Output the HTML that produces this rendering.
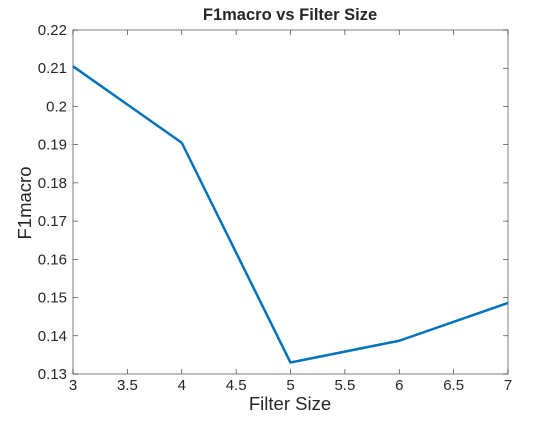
<!DOCTYPE html>
<html><head><meta charset="utf-8"><style>
body{margin:0;background:#fff;}
svg text{font-family:"Liberation Sans",sans-serif;fill:#262626;}
</style></head><body>
<svg id="chart" width="560" height="420">
<rect x="0" y="0" width="560" height="420" fill="#fff"/>
<g id="axes"></g>
<path id="line" fill="none" stroke="#0072bd" stroke-width="2.5" stroke-linejoin="round"/>
<text x="290" y="20" text-anchor="middle" font-size="16.5" font-weight="bold">F1macro vs Filter Size</text>
<text x="290" y="410" text-anchor="middle" font-size="18.5">Filter Size</text>
<text transform="translate(31,203) rotate(-90)" text-anchor="middle" font-size="18.5">F1macro</text>
</svg>
<script>
const filterSizes=[3,4,5,6,7];
const f1Values=[0.2105,0.1905,0.1330,0.1387,0.1486];
const xTicks=[3,3.5,4,4.5,5,5.5,6,6.5,7];
const yTicks=[0.13,0.14,0.15,0.16,0.17,0.18,0.19,0.2,0.21,0.22];
const L=73,R=508,T=30,B=374;
const xs=v=>L+(v-3)/4*(R-L);
const ys=v=>B-(v-0.13)/0.09*(B-T);
const ns="http://www.w3.org/2000/svg";
const ax=document.getElementById('axes');
function mk(t,a){const e=document.createElementNS(ns,t);for(const k in a)e.setAttribute(k,a[k]);ax.appendChild(e);return e;}
const box=mk('rect',{x:L,y:T,width:R-L,height:B-T,fill:'none',stroke:'#262626','stroke-width':0.6});


xTicks.forEach(v=>{const x=xs(v);
mk('line',{x1:x,x2:x,y1:B,y2:B-5,stroke:'#262626','stroke-width':0.6});
mk('line',{x1:x,x2:x,y1:T,y2:T+5,stroke:'#262626','stroke-width':0.6});
const t=mk('text',{x:x,y:B+16,'text-anchor':'middle','font-size':15});t.textContent=String(v);

});
yTicks.forEach(v=>{const y=ys(v);
mk('line',{x1:L,x2:L+5,y1:y,y2:y,stroke:'#262626','stroke-width':0.6});
mk('line',{x1:R,x2:R-5,y1:y,y2:y,stroke:'#262626','stroke-width':0.6});
const t=mk('text',{x:L-6,y:y+5,'text-anchor':'end','font-size':15});t.textContent=String(v);

});
document.getElementById('line').setAttribute('d',filterSizes.map((x,i)=>(i?'L':'M')+xs(x)+','+ys(f1Values[i])).join(' '));
</script>
</body></html>
